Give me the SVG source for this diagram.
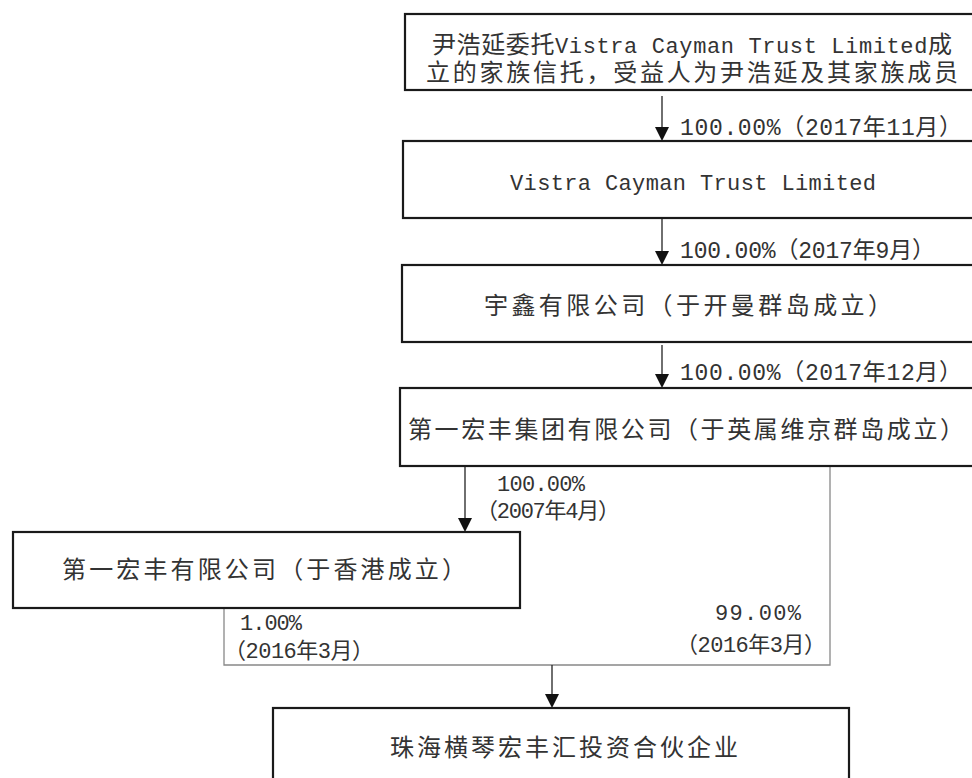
<svg xmlns="http://www.w3.org/2000/svg" width="972" height="778" viewBox="0 0 972 778">
<style>
.box{fill:#fff;stroke:#1a1a1a;stroke-width:2.2}
.t{font-family:"Liberation Mono","Noto Sans CJK SC",monospace;font-size:24px;fill:#333}
.l{font-family:"Liberation Mono","Noto Sans CJK SC",monospace;font-size:23px;fill:#333}
.s{font-family:"Liberation Mono","Noto Sans CJK SC",monospace;font-size:22px;fill:#333}
.m{font-size:22px}
.ln{stroke:#222;stroke-width:1.3;fill:none}
.gl{stroke:#888;stroke-width:1.3;fill:none}
.ah{fill:#111}
</style>
<rect width="972" height="778" fill="#fff"/>
<g id="connectors">
<line class="ln" x1="662" y1="96" x2="662" y2="130"/>
<line class="ln" x1="662" y1="218" x2="662" y2="254"/>
<line class="ln" x1="662" y1="345" x2="662" y2="377"/>
<line class="ln" x1="465" y1="466" x2="465" y2="521"/>
<polyline class="gl" points="224,608 224,665 830,665 830,466"/>
<line class="ln" x1="552" y1="665" x2="552" y2="697"/>
<path class="ah" d="M655,127 L669,127 L662,141 Z"/>
<path class="ah" d="M655,251 L669,251 L662,265 Z"/>
<path class="ah" d="M655,374 L669,374 L662,388 Z"/>
<path class="ah" d="M458,518 L472,518 L465,532 Z"/>
<path class="ah" d="M545,694 L559,694 L552,708 Z"/>
<text class="l" x="680" y="135" textLength="282" lengthAdjust="spacing">100.00%（2017年11月）</text>
<text class="l" x="680" y="258" textLength="255" lengthAdjust="spacing">100.00%（2017年9月）</text>
<text class="l" x="680" y="380" textLength="282" lengthAdjust="spacing">100.00%（2017年12月）</text>
<text class="s" x="497" y="491" textLength="88" lengthAdjust="spacing">100.00%</text>
<text class="s" x="476" y="518" textLength="144" lengthAdjust="spacing">（2007年4月）</text>
<text class="s" x="240" y="630" textLength="62" lengthAdjust="spacing">1.00%</text>
<text class="s" x="224" y="658" textLength="150" lengthAdjust="spacing">（2016年3月）</text>
<text class="s" x="715" y="620" textLength="86" lengthAdjust="spacing">99.00%</text>
<text class="s" x="676" y="652" textLength="150" lengthAdjust="spacing">（2016年3月）</text>
</g>
<g id="n1">
<rect class="box" x="405" y="14" width="580" height="76"/>
<text class="t" x="432" y="53" textLength="520" lengthAdjust="spacing">尹浩延委托<tspan class="m">Vistra Cayman Trust Limited</tspan>成</text>
<text class="t" x="426" y="81" textLength="532" lengthAdjust="spacing">立的家族信托，受益人为尹浩延及其家族成员</text>
</g>
<g id="n2">
<rect class="box" x="403" y="141" width="582" height="77"/>
<text class="t m" x="510" y="190" textLength="366" lengthAdjust="spacing">Vistra Cayman Trust Limited</text>
</g>
<g id="n3">
<rect class="box" x="402" y="265" width="583" height="77"/>
<text class="t" x="484" y="314" textLength="408" lengthAdjust="spacing">宇鑫有限公司（于开曼群岛成立）</text>
</g>
<g id="n4">
<rect class="box" x="400" y="388" width="585" height="78"/>
<text class="t" x="408" y="438" textLength="556" lengthAdjust="spacing">第一宏丰集团有限公司（于英属维京群岛成立）</text>
</g>
<g id="n5">
<rect class="box" x="13" y="532" width="507" height="76"/>
<text class="t" x="62" y="578" textLength="404" lengthAdjust="spacing">第一宏丰有限公司（于香港成立）</text>
</g>
<g id="n6">
<rect class="box" x="273" y="708" width="576" height="90"/>
<text class="t" x="390" y="756" textLength="348" lengthAdjust="spacing">珠海横琴宏丰汇投资合伙企业</text>
</g>
</svg>
